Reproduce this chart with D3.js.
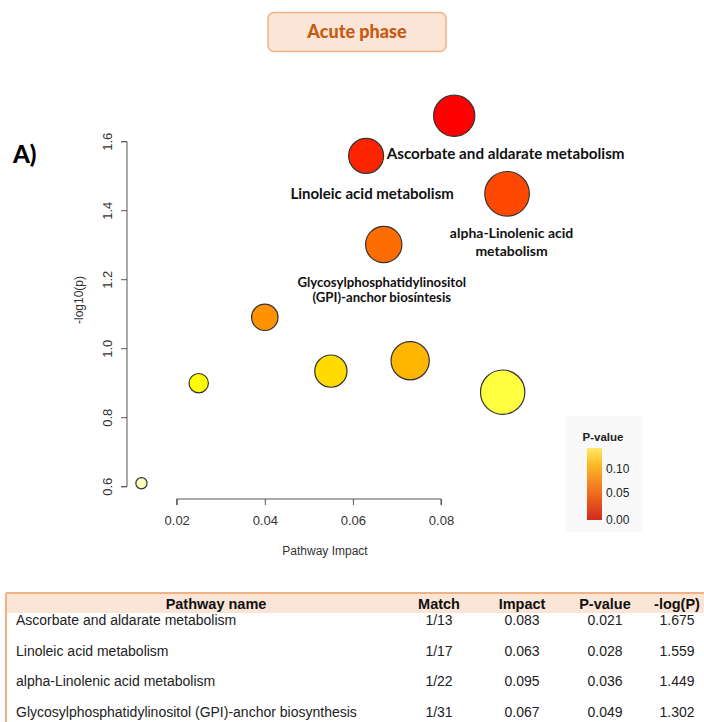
<!DOCTYPE html>
<html>
<head>
<meta charset="utf-8">
<script src="https://cdn.jsdelivr.net/npm/d3@7"></script>
<style>
  html, body { margin: 0; padding: 0; background: #fff; }
  svg { display: block; }
</style>
</head>
<body>
<svg id="chart" width="704" height="722"></svg>
<script>
// ---------------- DATA ----------------
const pathwayImpact = [0.083, 0.063, 0.095, 0.067, 0.040, 0.025, 0.055, 0.073, 0.094, 0.012];
const negLog10P     = [1.675, 1.559, 1.449, 1.302, 1.091, 0.900, 0.935, 0.965, 0.874, 0.610];
const pointLabels   = [
  ["Ascorbate and aldarate metabolism"],
  ["Linoleic acid metabolism"],
  ["alpha-Linolenic acid", "metabolism"],
  ["Glycosylphosphatidylinositol", "(GPI)-anchor biosíntesis"],
  null, null, null, null, null, null
];
const xTicks = [0.02, 0.04, 0.06, 0.08];
const yTicks = [0.6, 0.8, 1.0, 1.2, 1.4, 1.6];
const legendTicks = [0.00, 0.05, 0.10];

const tableHeaders = ["Pathway name", "Match", "Impact", "P-value", "-log(P)"];
const tableNames   = ["Ascorbate and aldarate metabolism", "Linoleic acid metabolism",
                      "alpha-Linolenic acid metabolism", "Glycosylphosphatidylinositol (GPI)-anchor biosynthesis"];
const tableMatch   = ["1/13", "1/17", "1/22", "1/31"];
const tableImpact  = ["0.083", "0.063", "0.095", "0.067"];
const tablePValue  = ["0.021", "0.028", "0.036", "0.049"];
const tableLogP    = ["1.675", "1.559", "1.449", "1.302"];

const titleText = "Acute phase";
const panelText = "A)";

// ---------------- HELPERS ----------------
// R's heat.colors(n)
function heatColors(n) {
  const j = Math.floor(n / 4), i = n - j;
  const out = [];
  for (let k = 0; k < i; k++) {
    const h = i > 1 ? (k / (i - 1)) * (1 / 6) : 0;
    out.push(d3.rgb(255, Math.round(255 * h * 6), 0).formatHex());
  }
  for (let k = 0; k < j; k++) {
    const from = 1 - 1 / (2 * j), to = 1 / (2 * j);
    const s = j > 1 ? from + (to - from) * k / (j - 1) : from;
    out.push(d3.rgb(255, 255, Math.round(255 * (1 - s))).formatHex());
  }
  return out;
}

const svg = d3.select("#chart");
const sansR = "'Liberation Sans', Arial, sans-serif";
const sansB = "Lato, 'Open Sans', sans-serif";

// ---------------- TITLE ----------------
svg.append("rect")
  .attr("x", 268).attr("y", 12.5).attr("width", 178).attr("height", 39)
  .attr("rx", 6).attr("ry", 6)
  .attr("fill", "#FBE5D6").attr("stroke", "#F4B183").attr("stroke-width", 1.5);
svg.append("text")
  .attr("x", 357).attr("y", 32).attr("dy", "0.35em")
  .attr("text-anchor", "middle")
  .style("font-family", sansB).style("font-weight", 900).style("font-size", "18px")
  .attr("fill", "#C55A11").text(titleText);

svg.append("text")
  .attr("x", 13).attr("y", 155).attr("dy", "0.35em")
  .style("font-family", sansB).style("font-weight", 900).style("font-size", "24px")
  .attr("fill", "#000").text(panelText);

// ---------------- SCALES ----------------
const x = d3.scaleLinear().domain([0.02, 0.08]).range([176.7, 441]);
const y = d3.scaleLinear().domain([0.6, 1.6]).range([486.7, 141.7]);
const r = d3.scalePow().exponent(0.5)
  .domain(d3.extent(pathwayImpact)).range([5.6, 22.3]);

// colour by rank of -log10(p) (highest = red), heat.colors
const order = d3.range(negLog10P.length).sort((a, b) => negLog10P[b] - negLog10P[a]);
const heat = heatColors(negLog10P.length);
const colorOf = [];
order.forEach((idx, rank) => { colorOf[idx] = heat[rank]; });

// ---------------- AXES ----------------
const axisColor = "#555";
const tickFont = "13px";
const yAxis = d3.axisLeft(y).tickValues(yTicks).tickFormat(d3.format(".1f")).tickSize(6).tickPadding(4);
const gy = svg.append("g").attr("transform", "translate(127,0)").call(yAxis);
gy.select(".domain").attr("stroke", axisColor).attr("d", `M-6,${y(0.6)}H0V${y(1.6)}H-6`);
gy.selectAll(".tick line").attr("stroke", axisColor);
gy.selectAll(".tick text")
  .attr("transform", `rotate(-90)`)
  .attr("x", d => -y(d)).attr("y", -20).attr("dy", "0.35em")
  .attr("text-anchor", "middle")
  .style("font-family", sansR).style("font-size", tickFont).attr("fill", "#333");
gy.selectAll(".tick").attr("transform", null);
gy.selectAll(".tick line").attr("y1", d => y(d)).attr("y2", d => y(d));

const xAxis = d3.axisBottom(x).tickValues(xTicks).tickFormat(d3.format(".2f")).tickSize(6).tickPadding(11);
const gx = svg.append("g").attr("transform", "translate(0,499)").call(xAxis);
gx.select(".domain").attr("stroke", axisColor).attr("d", `M${x(0.02)},6V0H${x(0.08)}V6`);
gx.selectAll(".tick line").attr("stroke", axisColor);
gx.selectAll(".tick text")
  .style("font-family", sansR).style("font-size", tickFont).attr("fill", "#333");

svg.append("text")
  .attr("transform", `translate(79,300) rotate(-90)`)
  .attr("text-anchor", "middle").attr("dy", "0.35em")
  .style("font-family", sansR).style("font-size", "12px").attr("fill", "#333")
  .text("-log10(p)");
svg.append("text")
  .attr("x", 325).attr("y", 551).attr("dy", "0.35em")
  .attr("text-anchor", "middle")
  .style("font-family", sansR).style("font-size", "12px").attr("fill", "#333")
  .text("Pathway Impact");

// ---------------- POINTS ----------------
const pts = d3.range(pathwayImpact.length);
svg.append("g").selectAll("circle").data(pts).join("circle")
  .attr("cx", i => x(pathwayImpact[i]))
  .attr("cy", i => y(negLog10P[i]))
  .attr("r", i => r(pathwayImpact[i]))
  .attr("fill", i => colorOf[i])
  .attr("stroke", "#333").attr("stroke-width", 1.2);

// label placement (pixel offsets relative to the point, anchor, size)
const labelLayout = [
  { dx: -67.5, dy: 37.5, anchor: "start", size: 15.2, lh: 0 },
  { dx: 6, dy: 37.8, anchor: "middle", size: 15, lh: 0 },
  { dx: 4.5, dy: 39, anchor: "middle", size: 14, lh: 18.5 },
  { dx: -2, dy: 37.4, anchor: "middle", size: 13.2, lh: 15 }
];
pointLabels.forEach((lines, i) => {
  if (!lines) return;
  const L = labelLayout[i];
  const cx = x(pathwayImpact[i]), cy = y(negLog10P[i]);
  const t = svg.append("text")
    .attr("text-anchor", L.anchor)
    .style("font-family", sansB).style("font-weight", 700).style("font-size", L.size + "px")
    .attr("fill", "#111");
  lines.forEach((ln, k) => {
    t.append("tspan").attr("x", cx + L.dx).attr("y", cy + L.dy + k * L.lh).attr("dy", "0.35em").text(ln);
  });
});

// ---------------- LEGEND ----------------
svg.append("rect").attr("x", 566).attr("y", 416).attr("width", 76).attr("height", 116)
  .attr("fill", "#f9f9f9");
const defs = svg.append("defs");
const grad = defs.append("linearGradient").attr("id", "pgrad")
  .attr("x1", 0).attr("y1", 1).attr("x2", 0).attr("y2", 0);
[["0%", "#CF2A1F"], ["30%", "#EC5F1E"], ["55%", "#F68E22"], ["80%", "#FDC12A"], ["100%", "#FFE968"]]
  .forEach(([o, c]) => grad.append("stop").attr("offset", o).attr("stop-color", c));
const ly = d3.scaleLinear().domain([0, 0.15]).range([520, 448]);
svg.append("rect").attr("x", 587).attr("y", ly(0.15)).attr("width", 15).attr("height", ly(0) - ly(0.15))
  .attr("fill", "url(#pgrad)");
svg.append("text").attr("x", 603).attr("y", 437).attr("dy", "0.35em").attr("text-anchor", "middle")
  .style("font-family", sansR).style("font-size", "11.5px").style("font-weight", 700).attr("fill", "#222")
  .text("P-value");
svg.append("g").selectAll("text").data(legendTicks).join("text")
  .attr("x", 606).attr("y", d => ly(d) - (d === 0 ? 0 : 3)).attr("dy", "0.35em")
  .style("font-family", sansR).style("font-size", "12px").attr("fill", "#222")
  .text(d => d.toFixed(2));

// ---------------- TABLE ----------------
const tTop = 593, hdrH = 20;
svg.append("rect").attr("x", 6).attr("y", tTop).attr("width", 698).attr("height", hdrH).attr("fill", "#FBE5D6");
svg.append("line").attr("x1", 6).attr("x2", 704).attr("y1", tTop).attr("y2", tTop)
  .attr("stroke", "#F4B183").attr("stroke-width", 2);
svg.append("line").attr("x1", 6).attr("x2", 6).attr("y1", tTop).attr("y2", 722)
  .attr("stroke", "#F4B183").attr("stroke-width", 2);

const colX = [216, 439, 522, 605, 677];
svg.append("g").selectAll("text").data(tableHeaders).join("text")
  .attr("x", (d, i) => colX[i]).attr("y", 604).attr("dy", "0.35em").attr("text-anchor", "middle")
  .style("font-family", sansR).style("font-weight", 700).style("font-size", "14.5px").attr("fill", "#111")
  .text(d => d);

const rowY = d3.scaleLinear().domain([0, 1]).range([620, 650.7]);
const rows = d3.range(tableNames.length);
const cellStyle = s => s.style("font-family", sansR).style("font-size", "14px").attr("fill", "#222");
svg.append("g").selectAll("text").data(rows).join("text")
  .attr("x", 16).attr("y", i => rowY(i)).attr("dy", "0.35em")
  .call(cellStyle).text(i => tableNames[i]);
[tableMatch, tableImpact, tablePValue, tableLogP].forEach((col, c) => {
  svg.append("g").selectAll("text").data(rows).join("text")
    .attr("x", colX[c + 1]).attr("y", i => rowY(i)).attr("dy", "0.35em").attr("text-anchor", "middle")
    .call(cellStyle).text(i => col[i]);
});
</script>
</body>
</html>
